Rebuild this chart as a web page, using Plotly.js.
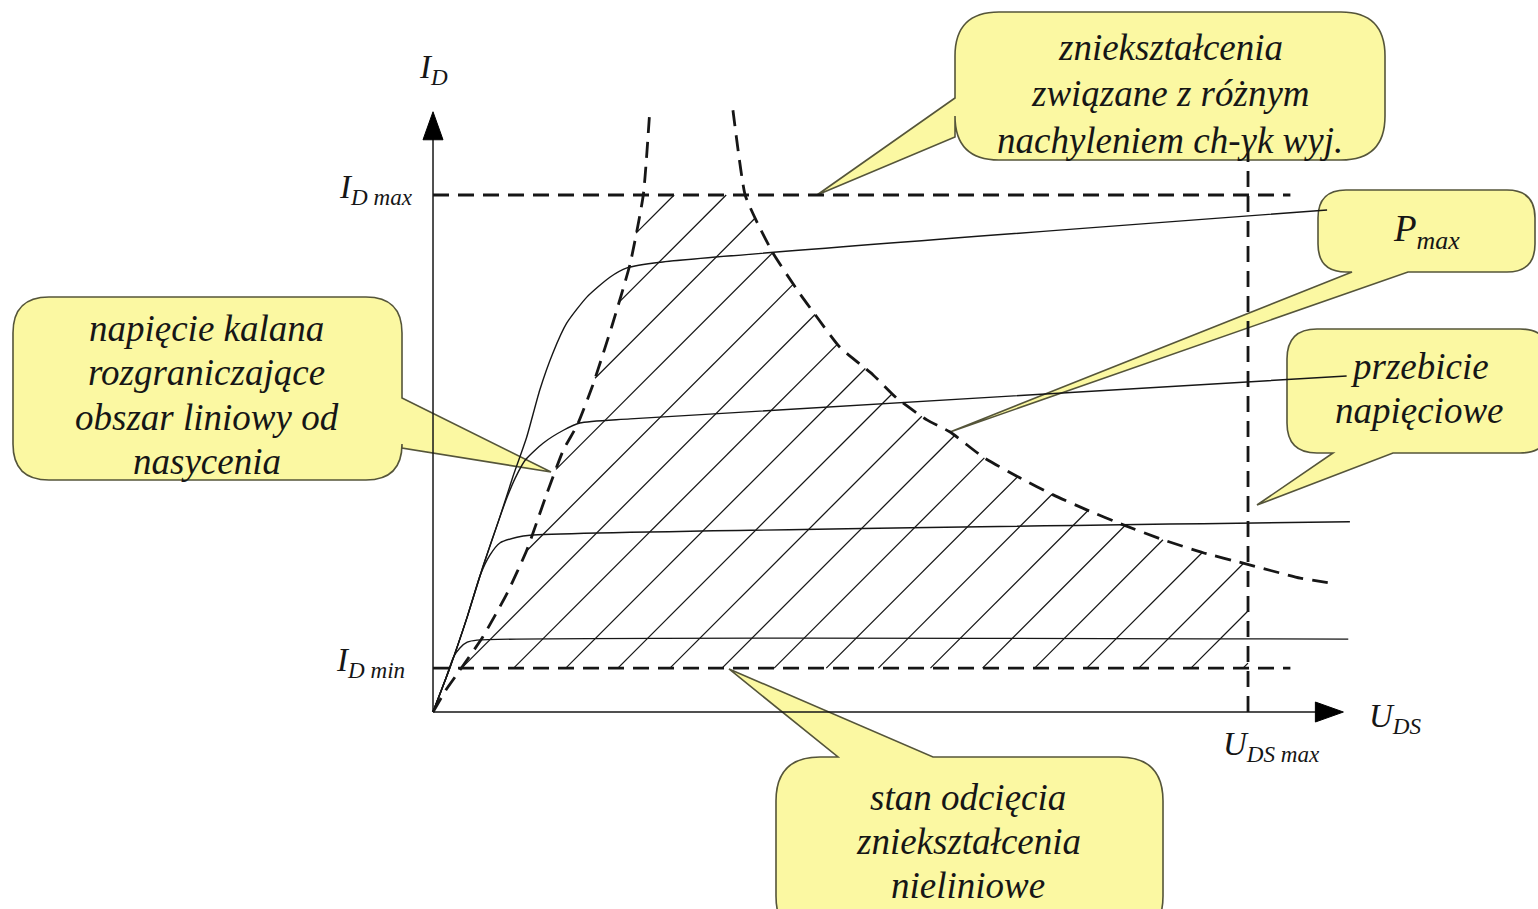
<!DOCTYPE html>
<html><head><meta charset="utf-8">
<script src="https://cdn.plot.ly/plotly-3.0.1.min.js"></script>
<style>html,body{margin:0;padding:0;background:#fff;overflow:hidden}#chart{width:1538px;height:909px}</style>
</head><body><div id="chart"></div>
<script>
// ---- values (U in tenths of U_DSmax, I in tenths of I_Dmax)
const U_DS_MAX = 10;
const I_D_MAX = 10;
const I_D_MIN = 0.85;
const U_AXIS_END = 11.17;
const I_AXIS_END = 11.61;
const LIMIT_LINE_END = 10.52;
const U_LIMIT_TOP = 10.87;

// knee-voltage boundary (dashed, linear region / saturation)
const kneeU = [0, 0.16, 0.33, 0.61, 0.91, 1.15, 1.40, 1.60, 1.77, 1.96, 2.20, 2.42, 2.58, 2.66];
const kneeI = [0, 0.43, 0.81, 1.45, 2.30, 3.13, 4.24, 5.07, 5.55, 6.32, 7.49, 8.68, 10.00, 11.64];

// P_max hyperbola (dashed)
const pmaxU = [3.68, 3.83, 3.98, 4.17, 4.47, 4.71, 4.99, 5.40, 5.69, 6.06, 6.34, 6.75, 7.20, 7.61, 8.02, 8.47, 8.96, 9.45, 9.94, 10.64, 11.07];
const pmaxI = [11.64, 10.00, 9.46, 8.88, 8.16, 7.64, 7.06, 6.52, 6.07, 5.65, 5.42, 4.93, 4.53, 4.20, 3.91, 3.62, 3.33, 3.08, 2.88, 2.59, 2.48];

// output characteristics I_D(U_DS)
const ch1U = [0, 0.21, 0.42, 0.61, 0.82, 0.98, 1.15, 1.31, 1.47, 1.64, 1.89, 2.17, 2.38, 2.79, 10.97];
const ch1I = [0, 0.87, 1.84, 2.80, 3.77, 4.55, 5.32, 6.23, 6.94, 7.52, 8.03, 8.41, 8.59, 8.70, 9.71];
const ch2U = [0, 0.21, 0.42, 0.61, 0.82, 0.91, 1.01, 1.13, 1.35, 1.60, 1.80, 2.42, 11.21];
const ch2I = [0, 0.87, 1.84, 2.80, 3.77, 4.16, 4.53, 4.87, 5.20, 5.45, 5.59, 5.67, 6.50];
const ch3U = [0, 0.21, 0.42, 0.58, 0.70, 0.82, 1.03, 1.19, 11.25];
const ch3I = [0, 0.87, 1.84, 2.65, 3.04, 3.27, 3.38, 3.42, 3.68];
const ch4U = [0, 0.15, 0.25, 0.33, 0.42, 0.54, 11.23];
const ch4I = [0, 0.62, 1.06, 1.24, 1.35, 1.39, 1.41];

// texts
const axisLabels = { id: 'I<sub>D</sub>', idMax: 'I<sub>D max</sub>', idMin: 'I<sub>D min</sub>', uds: 'U<sub>DS</sub>', udsMax: 'U<sub>DS max</sub>' };
const calloutTexts = [
  ['zniekształcenia', 'związane z różnym', 'nachyleniem ch-yk wyj.'],
  ['P<sub>max</sub>'],
  ['przebicie', 'napięciowe'],
  ['napięcie kalana', 'rozgraniczające', 'obszar liniowy od', 'nasycenia'],
  ['stan odcięcia', 'zniekształcenia', 'nieliniowe']
];

// ---- layout geometry
const W = 1538, H = 909;
const xr = [-5.313, 13.558], yr = [-3.810, 13.772];
const kx = W / (xr[1] - xr[0]), ky = H / (yr[1] - yr[0]);
const INK = '#161616';
const FONT = 'Liberation Serif';

function crossAtI(us, is, level) {
  for (let i = 0; i < us.length - 1; i++) {
    if ((is[i] - level) * (is[i + 1] - level) <= 0 && is[i] !== is[i + 1]) {
      const t = (level - is[i]) / (is[i + 1] - is[i]);
      return [us[i] + t * (us[i + 1] - us[i]), level];
    }
  }
  return null;
}
function crossAtU(us, is, level) {
  for (let i = 0; i < us.length - 1; i++) {
    if ((us[i] - level) * (us[i + 1] - level) <= 0 && us[i] !== us[i + 1]) {
      const t = (level - us[i]) / (us[i + 1] - us[i]);
      return [level, is[i] + t * (is[i + 1] - is[i])];
    }
  }
  return null;
}

// safe operating area polygon
const poly = [];
poly.push(crossAtI(kneeU, kneeI, I_D_MIN));
poly.push([U_DS_MAX, I_D_MIN]);
poly.push(crossAtU(pmaxU, pmaxI, U_DS_MAX));
for (let i = pmaxU.length - 1; i >= 0; i--) if (pmaxU[i] < U_DS_MAX && pmaxI[i] < I_D_MAX) poly.push([pmaxU[i], pmaxI[i]]);
poly.push(crossAtI(pmaxU, pmaxI, I_D_MAX));
poly.push(crossAtI(kneeU, kneeI, I_D_MAX));
for (let i = kneeU.length - 1; i >= 0; i--) if (kneeI[i] < I_D_MAX && kneeI[i] > I_D_MIN) poly.push([kneeU[i], kneeI[i]]);
poly.push(poly[0]);

// 45° hatch clipped to polygon (computed in screen-proportional space)
const hatchX = [], hatchY = [];
const HATCH_ANCHOR_U = 0.35, HATCH_STEP_PX = 52.1;
const ax0 = HATCH_ANCHOR_U * kx, ay0 = I_D_MIN * ky;
for (let k = -12; k <= 20; k++) {
  const d = (ax0 + k * HATCH_STEP_PX) - ay0; // line X - Y = d
  const pts = [];
  for (let j = 0; j < poly.length - 1; j++) {
    const X1 = poly[j][0] * kx, Y1 = poly[j][1] * ky, X2 = poly[j + 1][0] * kx, Y2 = poly[j + 1][1] * ky;
    const f1 = X1 - Y1 - d, f2 = X2 - Y2 - d;
    if (f1 === f2) continue;
    if ((f1 <= 0 && f2 > 0) || (f1 > 0 && f2 <= 0)) {
      const t = f1 / (f1 - f2);
      pts.push([X1 + t * (X2 - X1), Y1 + t * (Y2 - Y1)]);
    }
  }
  pts.sort((a, b) => a[0] - b[0]);
  for (let m = 0; m + 1 < pts.length; m += 2) {
    hatchX.push(pts[m][0] / kx, pts[m + 1][0] / kx, null);
    hatchY.push(pts[m][1] / ky, pts[m + 1][1] / ky, null);
  }
}

const dashed = { color: INK, width: 2.8, dash: '16px,9px' };
const solid = { color: INK, width: 1.4 };
const traces = [];
traces.push({ x: hatchX, y: hatchY, mode: 'lines', line: { color: INK, width: 1.25 }, hoverinfo: 'skip' });
[[ch1U, ch1I], [ch2U, ch2I], [ch3U, ch3I], [ch4U, ch4I]].forEach(c => traces.push({ x: c[0], y: c[1], mode: 'lines', line: Object.assign({ shape: 'spline', smoothing: 0.6 }, solid), hoverinfo: 'skip' }));
traces.push({ x: [0, LIMIT_LINE_END], y: [I_D_MAX, I_D_MAX], mode: 'lines', line: dashed });
traces.push({ x: [0, LIMIT_LINE_END], y: [I_D_MIN, I_D_MIN], mode: 'lines', line: dashed });
traces.push({ x: [U_DS_MAX, U_DS_MAX], y: [0, U_LIMIT_TOP], mode: 'lines', line: dashed });
traces.push({ x: kneeU, y: kneeI, mode: 'lines', line: Object.assign({ shape: 'spline', smoothing: 0.5 }, dashed) });
traces.push({ x: pmaxU, y: pmaxI, mode: 'lines', line: Object.assign({ shape: 'spline', smoothing: 0.5 }, dashed) });
traces.push({ x: [0, 0, null, 0, U_AXIS_END - 0.1], y: [I_AXIS_END - 0.1, 0, null, 0, 0], mode: 'lines', line: { color: INK, width: 1.5 } });
const AH = 28, AW = 10; // arrowhead length / half width, px
traces.push({ x: [0, -AW / kx, AW / kx, 0], y: [I_AXIS_END, I_AXIS_END - AH / ky, I_AXIS_END - AH / ky, I_AXIS_END], mode: 'lines', fill: 'toself', fillcolor: '#000', line: { color: '#000', width: 1 } });
traces.push({ x: [U_AXIS_END, U_AXIS_END - AH / kx, U_AXIS_END - AH / kx, U_AXIS_END], y: [0, AW / ky, -AW / ky, 0], mode: 'lines', fill: 'toself', fillcolor: '#000', line: { color: '#000', width: 1 } });

// ---- callout bubbles (pixel geometry)
function pt(x, y) { return (x / W).toFixed(5) + ',' + (1 - y / H).toFixed(5); }
function bubble(b) {
  const c = [];
  const M = (x, y) => c.push('M' + pt(x, y));
  const L = (x, y) => c.push('L' + pt(x, y));
  const Q = (cx, cy, x, y) => c.push('Q' + pt(cx, cy) + ' ' + pt(x, y));
  const { x0, y0, x1, y1, r, side, a, b: bb, tip } = b;
  M(x0 + r, y0);
  if (side === 'top') { L(a, y0); L(tip[0], tip[1]); L(bb, y0); }
  L(x1 - r, y0); Q(x1, y0, x1, y0 + r);
  if (side === 'right') { L(x1, a); L(tip[0], tip[1]); L(x1, bb); }
  L(x1, y1 - r); Q(x1, y1, x1 - r, y1);
  if (side === 'bottom') { L(bb, y1); L(tip[0], tip[1]); L(a, y1); }
  L(x0 + r, y1); Q(x0, y1, x0, y1 - r);
  if (side === 'left') { L(x0, bb); L(tip[0], tip[1]); L(x0, a); }
  L(x0, y0 + r); Q(x0, y0, x0 + r, y0);
  c.push('Z');
  return c.join(' ');
}
// tx: text centre x, ty: first-line centre y, lh: line spacing
const bubbles = [
  { x0: 955, y0: 12, x1: 1385, y1: 160, r: 44, side: 'left', a: 98, b: 137, tip: [817, 195], tx: 1170, ty: 47, lh: 46.5 },
  { x0: 1318, y0: 190, x1: 1535, y1: 272, r: 28, side: 'bottom', a: 1352, b: 1408, tip: [950, 432], tx: 1426, ty: 231, lh: 0 },
  { x0: 1287, y0: 329, x1: 1550, y1: 453, r: 30, side: 'bottom', a: 1333, b: 1393, tip: [1257, 505], tx: 1419, ty: 366, lh: 44 },
  { x0: 13, y0: 297, x1: 402, y1: 480, r: 36, side: 'right', a: 398, b: 448, tip: [551, 472], tx: 207, ty: 328, lh: 44.5 },
  { x0: 776, y0: 757, x1: 1163, y1: 940, r: 44, side: 'top', a: 838, b: 933, tip: [729, 669], tx: 968, ty: 797, lh: 44 }
];
const shapes = bubbles.map(b => ({ type: 'path', xref: 'paper', yref: 'paper', path: bubble(b), layer: 'below', fillcolor: '#fbf8a2', line: { color: '#55553a', width: 1.6 } }));

const tfont = { family: FONT, size: 37, color: INK, style: 'italic' };
const annotations = [];
bubbles.forEach((b, i) => calloutTexts[i].forEach((line, j) => annotations.push({
  xref: 'paper', yref: 'paper', x: b.tx / W, y: 1 - (b.ty + j * b.lh) / H, text: line,
  showarrow: false, xanchor: 'center', yanchor: 'middle', align: 'center', font: tfont
})));
const afont = { family: FONT, size: 33, color: INK, style: 'italic' };
annotations.push(
  { x: 0, y: I_AXIS_END, yshift: 42, text: axisLabels.id, showarrow: false, xanchor: 'center', yanchor: 'middle', font: afont },
  { x: 0, y: I_D_MAX, xshift: -18, yshift: 6, text: axisLabels.idMax, showarrow: false, xanchor: 'right', yanchor: 'middle', font: afont },
  { x: 0, y: I_D_MIN, xshift: -26, yshift: 6, text: axisLabels.idMin, showarrow: false, xanchor: 'right', yanchor: 'middle', font: afont },
  { x: U_AXIS_END, y: 0, xshift: 24, yshift: -6, text: axisLabels.uds, showarrow: false, xanchor: 'left', yanchor: 'middle', font: afont },
  { x: U_DS_MAX, y: 0, xshift: -27, yshift: -34, text: axisLabels.udsMax, showarrow: false, xanchor: 'left', yanchor: 'middle', font: afont }
);

const layout = {
  width: W, height: H, margin: { l: 0, r: 0, t: 0, b: 0, pad: 0 },
  paper_bgcolor: '#fff', plot_bgcolor: '#fff', showlegend: false,
  xaxis: { range: xr, visible: false, fixedrange: true },
  yaxis: { range: yr, visible: false, fixedrange: true },
  shapes: shapes, annotations: annotations
};
Plotly.newPlot('chart', traces, layout, { staticPlot: true, displayModeBar: false });
</script></body></html>
